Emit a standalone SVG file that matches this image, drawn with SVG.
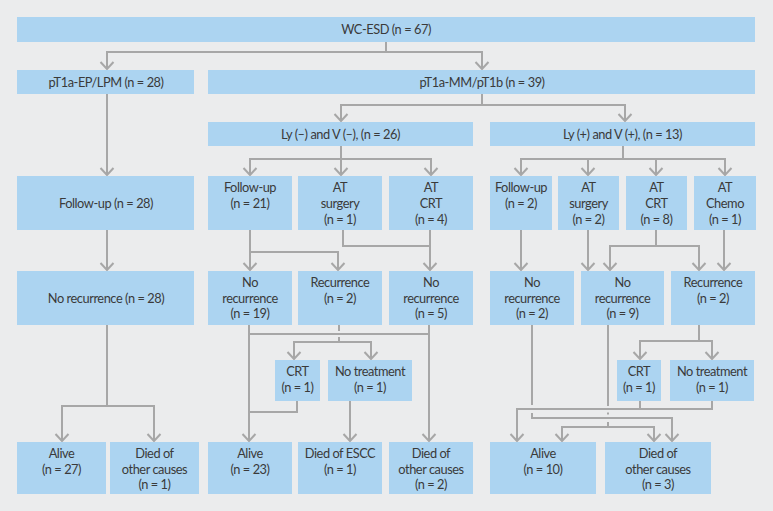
<svg xmlns="http://www.w3.org/2000/svg" width="773" height="511" viewBox="0 0 773 511">
<style>
.box{fill:#acd4f1}
.ln{fill:none;stroke:#a7a7a7;stroke-width:2}
text{font-family:Lato,"Liberation Sans",sans-serif;font-size:12.8px;letter-spacing:-0.45px;fill:#3a3a3a;text-anchor:middle}
</style>
<defs>
<marker id="ah" markerUnits="userSpaceOnUse" viewBox="-9 -9 18 18" markerWidth="18" markerHeight="18" refX="0" refY="0" orient="auto-start-reverse">
<path d="M-7,-6.5 L0,0 L-7,6.5" fill="none" stroke="#a7a7a7" stroke-width="2"/>
</marker>
</defs>
<rect x="0" y="0" width="773" height="511" fill="#ebeced"/>
<g id="connectors" class="ln">
<path d="M386,42 V52"/>
<path d="M107,69 V52 H482 V69" marker-start="url(#ah)" marker-end="url(#ah)"/>
<path d="M107,94 V175" marker-end="url(#ah)"/>
<path d="M482,94 V105"/>
<path d="M341,121 V105 H625 V121" marker-start="url(#ah)" marker-end="url(#ah)"/>
<path d="M341,146 V175" marker-end="url(#ah)"/>
<path d="M250,175 V159 H431 V175" marker-start="url(#ah)" marker-end="url(#ah)"/>
<path d="M623,146 V159"/>
<path d="M521,175 V159 H725 V175" marker-start="url(#ah)" marker-end="url(#ah)"/>
<path d="M588,159 V175" marker-end="url(#ah)"/>
<path d="M656,159 V175" marker-end="url(#ah)"/>
<path d="M107,230 V270" marker-end="url(#ah)"/>
<path d="M250,230 V270" marker-end="url(#ah)"/>
<path d="M250,252 H338 V270" marker-end="url(#ah)"/>
<path d="M343,230 V246 H430"/>
<path d="M430,230 V270" marker-end="url(#ah)"/>
<path d="M521,230 V270" marker-end="url(#ah)"/>
<path d="M588,230 V270" marker-end="url(#ah)"/>
<path d="M656,230 V246"/>
<path d="M610,270 V246 H699 V270" marker-start="url(#ah)" marker-end="url(#ah)"/>
<path d="M724,230 V270" marker-end="url(#ah)"/>
<path d="M107,325 V406"/>
<path d="M62,441 V406 H154 V441" marker-start="url(#ah)" marker-end="url(#ah)"/>
<path d="M249,325 V441" marker-end="url(#ah)"/>
<path d="M429,325 V441" marker-end="url(#ah)"/>
<path d="M249,334 H429"/>
<path d="M339,325 V331 M339,337 V342"/>
<path d="M294,359 V342 H371 V359" marker-start="url(#ah)" marker-end="url(#ah)"/>
<path d="M297,401 V412 H249"/>
<path d="M350,401 V441" marker-end="url(#ah)"/>
<path d="M699,325 V341"/>
<path d="M640,359 V341 H712 V359" marker-start="url(#ah)" marker-end="url(#ah)"/>
<path d="M640,401 V409"/>
<path d="M712,401 V409 H517 V441" marker-end="url(#ah)"/>
<path d="M532,325 V405"/>
<path d="M532,413 V418 H672 V441" marker-end="url(#ah)"/>
<path d="M608,325 V406 M608,412.5 V414.5 M608,422 V427"/>
<path d="M562,441 V427 H654 V441" marker-start="url(#ah)" marker-end="url(#ah)"/>
</g>
<g id="n-wcesd"><rect class="box" x="17" y="17" width="738" height="25"/><text x="386" y="34">WC-ESD (n = 67)</text></g>
<g id="n-ep"><rect class="box" x="17" y="70" width="177" height="24"/><text x="106" y="86.5">pT1a-EP/LPM (n = 28)</text></g>
<g id="n-mm"><rect class="box" x="208" y="70" width="547" height="24"/><text x="482" y="86.5">pT1a-MM/pT1b (n = 39)</text></g>
<g id="n-lyneg"><rect class="box" x="208" y="122" width="265" height="24"/><text x="340.5" y="138.5">Ly (–) and V (–), (n = 26)</text></g>
<g id="n-lypos"><rect class="box" x="490" y="122" width="265" height="24"/><text x="622.5" y="138.5">Ly (+) and V (+), (n = 13)</text></g>
<g id="n-fu28"><rect class="box" x="17" y="176" width="177" height="54"/><text x="106" y="207.5">Follow-up (n = 28)</text></g>
<g id="n-fu21"><rect class="box" x="208" y="176" width="84" height="54"/><text x="250" y="192">Follow-up</text><text x="250" y="207.5">(n = 21)</text></g>
<g id="n-ats1"><rect class="box" x="298" y="176" width="84" height="54"/><text x="340" y="192">AT</text><text x="340" y="207.5">surgery</text><text x="340" y="223.5">(n = 1)</text></g>
<g id="n-atc4"><rect class="box" x="389" y="176" width="84" height="54"/><text x="431" y="192">AT</text><text x="431" y="207.5">CRT</text><text x="431" y="223.5">(n = 4)</text></g>
<g id="n-fu2"><rect class="box" x="490" y="176" width="62" height="54"/><text x="521" y="192">Follow-up</text><text x="521" y="207.5">(n = 2)</text></g>
<g id="n-ats2"><rect class="box" x="558" y="176" width="61" height="54"/><text x="588.5" y="192">AT</text><text x="588.5" y="207.5">surgery</text><text x="588.5" y="223.5">(n = 2)</text></g>
<g id="n-atc8"><rect class="box" x="626" y="176" width="61" height="54"/><text x="656.5" y="192">AT</text><text x="656.5" y="207.5">CRT</text><text x="656.5" y="223.5">(n = 8)</text></g>
<g id="n-atch1"><rect class="box" x="694" y="176" width="62" height="54"/><text x="725" y="192">AT</text><text x="725" y="207.5">Chemo</text><text x="725" y="223.5">(n = 1)</text></g>
<g id="n-nr28"><rect class="box" x="17" y="271" width="177" height="54"/><text x="106" y="302.5">No recurrence (n = 28)</text></g>
<g id="n-nr19"><rect class="box" x="208" y="271" width="84" height="54"/><text x="250" y="287">No</text><text x="250" y="302.5">recurrence</text><text x="250" y="318">(n = 19)</text></g>
<g id="n-rec2a"><rect class="box" x="298" y="271" width="84" height="54"/><text x="340" y="287">Recurrence</text><text x="340" y="302.5">(n = 2)</text></g>
<g id="n-nr5"><rect class="box" x="389" y="271" width="84" height="54"/><text x="431" y="287">No</text><text x="431" y="302.5">recurrence</text><text x="431" y="318">(n = 5)</text></g>
<g id="n-nr2"><rect class="box" x="490" y="271" width="84" height="54"/><text x="532" y="287">No</text><text x="532" y="302.5">recurrence</text><text x="532" y="318">(n = 2)</text></g>
<g id="n-nr9"><rect class="box" x="581" y="271" width="83" height="54"/><text x="622.5" y="287">No</text><text x="622.5" y="302.5">recurrence</text><text x="622.5" y="318">(n = 9)</text></g>
<g id="n-rec2b"><rect class="box" x="671" y="271" width="84" height="54"/><text x="713" y="287">Recurrence</text><text x="713" y="302.5">(n = 2)</text></g>
<g id="n-crt1a"><rect class="box" x="275" y="360" width="45" height="41"/><text x="297.5" y="376">CRT</text><text x="297.5" y="391.5">(n = 1)</text></g>
<g id="n-nt1a"><rect class="box" x="328" y="360" width="84" height="41"/><text x="370" y="376">No treatment</text><text x="370" y="391.5">(n = 1)</text></g>
<g id="n-crt1b"><rect class="box" x="617" y="360" width="44" height="41"/><text x="639" y="376">CRT</text><text x="639" y="391.5">(n = 1)</text></g>
<g id="n-nt1b"><rect class="box" x="670" y="360" width="84" height="41"/><text x="712" y="376">No treatment</text><text x="712" y="391.5">(n = 1)</text></g>
<g id="n-alive27"><rect class="box" x="17" y="442" width="89" height="52"/><text x="61.5" y="458">Alive</text><text x="61.5" y="473.5">(n = 27)</text></g>
<g id="n-died1"><rect class="box" x="110" y="442" width="89" height="52"/><text x="154.5" y="458">Died of</text><text x="154.5" y="473.5">other causes</text><text x="154.5" y="489">(n = 1)</text></g>
<g id="n-alive23"><rect class="box" x="208" y="442" width="84" height="52"/><text x="250" y="458">Alive</text><text x="250" y="473.5">(n = 23)</text></g>
<g id="n-escc1"><rect class="box" x="298" y="442" width="84" height="52"/><text x="340" y="458">Died of ESCC</text><text x="340" y="473.5">(n = 1)</text></g>
<g id="n-died2"><rect class="box" x="389" y="442" width="84" height="52"/><text x="431" y="458">Died of</text><text x="431" y="473.5">other causes</text><text x="431" y="489">(n = 2)</text></g>
<g id="n-alive10"><rect class="box" x="490" y="442" width="106" height="52"/><text x="543" y="458">Alive</text><text x="543" y="473.5">(n = 10)</text></g>
<g id="n-died3"><rect class="box" x="605" y="442" width="106" height="52"/><text x="658" y="458">Died of</text><text x="658" y="473.5">other causes</text><text x="658" y="489">(n = 3)</text></g>
</svg>
